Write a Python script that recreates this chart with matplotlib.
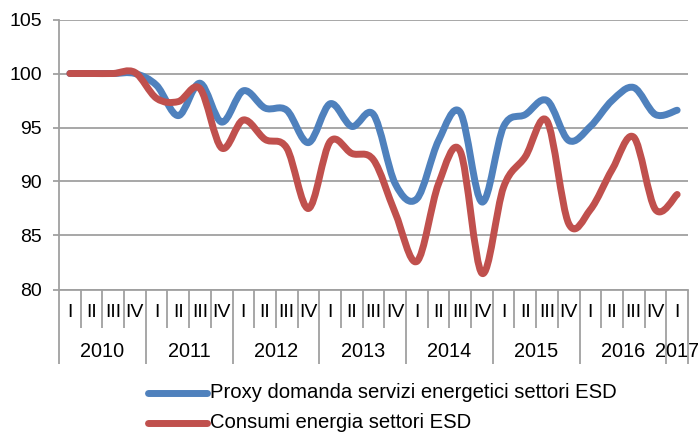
import matplotlib
matplotlib.use("Agg")
import matplotlib.pyplot as plt
from matplotlib.path import Path
from matplotlib.patches import PathPatch
from matplotlib.lines import Line2D
from matplotlib.transforms import blended_transform_factory

plt.rcParams['font.family'] = ['Liberation Sans', 'DejaVu Sans']

# dati trimestrali 2010 I - 2017 I
anni = ["2010", "2011", "2012", "2013", "2014", "2015", "2016", "2017"]
trimestri = ["I", "II", "III", "IV"]

proxy = [100, 100, 100, 100.0,
         98.9, 96.1, 99.1, 95.5,
         98.4, 96.8, 96.6, 93.6,
         97.2, 95.1, 96.2, 89.8,
         88.4, 93.8, 96.4, 88.1,
         95.1, 96.2, 97.5, 93.8,
         95.1, 97.5, 98.7, 96.2,
         96.6]
consumi = [100, 100, 100, 100.1,
           97.7, 97.4, 98.6, 93.1,
           95.7, 93.9, 93.1, 87.5,
           93.7, 92.6, 92.0, 87.1,
           82.6, 89.8, 92.8, 81.5,
           89.5, 92.3, 95.6, 86.1,
           87.4, 91.1, 94.1, 87.4,
           88.8]

nomi = ["Proxy domanda servizi energetici settori ESD", "Consumi energia settori ESD"]
colori = ["#4f81bd", "#c0504d"]
grigio = "#a0a0a0"


def curva_liscia(xs, ys):
    # spline tipo Excel (Bezier con tangenti Catmull-Rom)
    n = len(xs)
    verts = [(xs[0], ys[0])]
    codes = [Path.MOVETO]
    for i in range(n - 1):
        a = i - 1 if i > 0 else i
        d = i + 2 if i + 2 < n else i + 1
        c1 = (xs[i] + (xs[i + 1] - xs[a]) / 6, ys[i] + (ys[i + 1] - ys[a]) / 6)
        c2 = (xs[i + 1] - (xs[d] - xs[i]) / 6, ys[i + 1] - (ys[d] - ys[i]) / 6)
        verts += [c1, c2, (xs[i + 1], ys[i + 1])]
        codes += [Path.CURVE4] * 3
    return Path(verts, codes)


fig = plt.figure(figsize=(6.98, 4.32), dpi=100)
ax = fig.add_axes([59 / 698, 1 - 289.5 / 432, 629 / 698, 270 / 432])

x = list(range(len(proxy)))
for serie, col in zip([proxy, consumi], colori):
    ax.add_patch(PathPatch(curva_liscia(x, serie), fill=False, edgecolor=col, lw=5,
                           capstyle='round', joinstyle='round', zorder=3))

ax.set_xlim(-0.5, len(x) - 0.5)
ax.set_ylim(80, 105)
ax.set_yticks(range(80, 106, 5))
ax.yaxis.grid(True, color=grigio, lw=1.3)
ax.set_axisbelow(True)
for s in ["top", "right"]:
    ax.spines[s].set_visible(False)
for s in ["left", "bottom"]:
    ax.spines[s].set_color(grigio)
    ax.spines[s].set_linewidth(1.3)
ax.tick_params(axis='y', length=4.3, width=1.3, color=grigio, pad=8, labelsize=14)

# separatori trimestri e anni
bordi = [i - 0.5 for i in range(len(x) + 1)]
bordi_anni = [b for b in bordi if (b + 0.5) % 4 == 0] + [bordi[-1]]
ax.set_xticks(bordi_anni)
ax.set_xticks(bordi, minor=True)
ax.tick_params(axis='x', which='major', length=53, width=1.3, color=grigio, labelbottom=False)
ax.tick_params(axis='x', which='minor', length=27, width=1.3, color=grigio, labelbottom=False)

tr = blended_transform_factory(ax.transData, ax.transAxes)
for i in x:
    ax.text(i, -0.087, trimestri[i % 4], transform=tr, ha='center', va='center', fontsize=14)
for k, anno in enumerate(anni):
    ultimo = min(4 * k + 3, len(x) - 1)
    ax.text((4 * k + ultimo) / 2, -0.228, anno, transform=tr, ha='center', va='center', fontsize=14.3)

# legenda
for j, (nome, col) in enumerate(zip(nomi, colori)):
    yy = 1 - (393 + 30 * j) / 432
    fig.add_artist(Line2D([148 / 698, 207 / 698], [yy, yy], color=col, lw=5,
                          solid_capstyle='round', transform=fig.transFigure))
    fig.text(210 / 698, yy, nome, ha='left', va='center', fontsize=14.6)

fig.savefig("out.png", dpi=100)
